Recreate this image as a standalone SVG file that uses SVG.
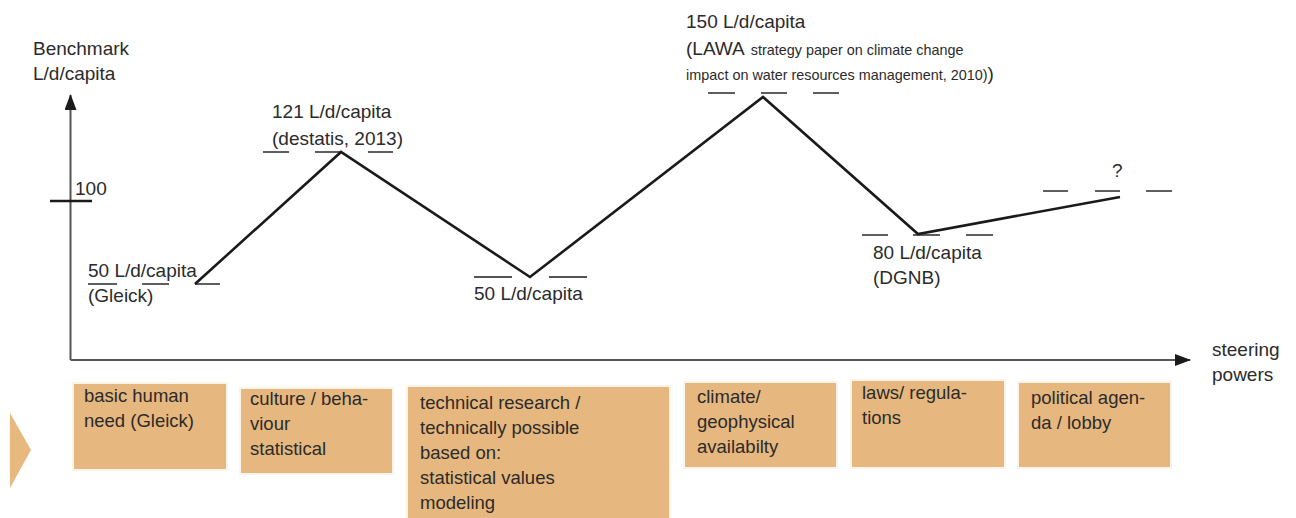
<svg xmlns="http://www.w3.org/2000/svg" width="1296" height="518" viewBox="0 0 1296 518">
  <style>
    text { font-family: "Liberation Sans", Arial, sans-serif; fill: #2b2b2b; }
    .lbl { font-size: 19px; }
    .small { font-size: 14.4px; }
    .box { fill: #e6b77e; stroke: #fbf4e8; stroke-width: 2; }
    .boxtxt { font-size: 18.5px; }
    .axis { stroke: #555; stroke-width: 2; fill: none; }
    .curve { stroke: #1a1a1a; stroke-width: 2.6; fill: none; stroke-linejoin: miter; }
    .dash { stroke: #1a1a1a; stroke-width: 1.4; }
  </style>
  <defs>
    <marker id="arrowhead" markerWidth="16" markerHeight="12" refX="15" refY="6" orient="auto" markerUnits="userSpaceOnUse">
      <path d="M0,0 L16,6 L0,12 Z" fill="#1a1a1a"/>
    </marker>
  </defs>
  <rect width="1296" height="518" fill="#ffffff"/>

  <!-- axes -->
  <g id="connectors">
    <path class="axis" d="M70.5,360 L70.5,95" marker-end="url(#arrowhead)"/>
    <path class="axis" d="M70.5,360 L1190,360" marker-end="url(#arrowhead)"/>
    <line x1="50" y1="201" x2="92" y2="201" stroke="#1a1a1a" stroke-width="2.6"/>
    <!-- benchmark curve -->
    <polyline class="curve" points="195,284 341,152 530,277 763,97 918,234 1120,197"/>
    <!-- reference dashes -->
    <g id="dashes">
      <line class="dash" x1="88" y1="284" x2="117" y2="284"/>
      <line class="dash" x1="142" y1="284" x2="169" y2="284"/>
      <line class="dash" x1="195" y1="284" x2="220" y2="284"/>
      <line class="dash" x1="263" y1="152" x2="289" y2="152"/>
      <line class="dash" x1="315" y1="152" x2="342" y2="152"/>
      <line class="dash" x1="368" y1="152" x2="393" y2="152"/>
      <line class="dash" x1="474" y1="277" x2="512" y2="277"/>
      <line class="dash" x1="549" y1="277" x2="587" y2="277"/>
      <line class="dash" x1="708" y1="93" x2="735" y2="93"/>
      <line class="dash" x1="761" y1="93" x2="787" y2="93"/>
      <line class="dash" x1="813" y1="93" x2="839" y2="93"/>
      <line class="dash" x1="862" y1="235" x2="888" y2="235"/>
      <line class="dash" x1="913" y1="235" x2="940" y2="235"/>
      <line class="dash" x1="966" y1="235" x2="993" y2="235"/>
      <line class="dash" x1="1043" y1="191" x2="1068" y2="191"/>
      <line class="dash" x1="1095" y1="191" x2="1120" y2="191"/>
      <line class="dash" x1="1146" y1="191" x2="1172" y2="191"/>
    </g>
  </g>

  <!-- axis labels -->
  <g id="axis-labels">
    <text class="lbl" x="33" y="55">Benchmark</text>
    <text class="lbl" x="33" y="80">L/d/capita</text>
    <text class="lbl" x="75" y="195">100</text>
    <text class="lbl" x="1212" y="356">steering</text>
    <text class="lbl" x="1212" y="381">powers</text>
  </g>

  <!-- point labels -->
  <g id="point-gleick">
    <text class="lbl" x="88" y="277">50 L/d/capita</text>
    <text class="lbl" x="88" y="302">(Gleick)</text>
  </g>
  <g id="point-destatis">
    <text class="lbl" x="272" y="118">121 L/d/capita</text>
    <text class="lbl" x="272" y="145">(destatis, 2013)</text>
  </g>
  <g id="point-technical">
    <text class="lbl" x="474" y="300">50 L/d/capita</text>
  </g>
  <g id="point-lawa">
    <text class="lbl" x="686" y="28">150 L/d/capita</text>
    <text x="686" y="55"><tspan class="lbl">(LAWA</tspan><tspan class="small" dx="6">strategy paper on climate change</tspan></text>
    <text x="686" y="80"><tspan class="small">impact on water resources management, 2010)</tspan><tspan class="lbl">)</tspan></text>
  </g>
  <g id="point-dgnb">
    <text class="lbl" x="873" y="259">80 L/d/capita</text>
    <text class="lbl" x="873" y="284">(DGNB)</text>
  </g>
  <g id="point-open">
    <text class="lbl" x="1112" y="177">?</text>
  </g>

  <!-- steering power boxes -->
  <polygon points="10,413 31,450 10,488" fill="#e8b97f"/>
  <g id="box-basic">
    <rect class="box" x="73" y="383" width="154" height="87"/>
    <text class="boxtxt" x="84" y="402">basic human</text>
    <text class="boxtxt" x="84" y="427">need (Gleick)</text>
  </g>
  <g id="box-culture">
    <rect class="box" x="240" y="388" width="153" height="86"/>
    <text class="boxtxt" x="250" y="405">culture / beha-</text>
    <text class="boxtxt" x="250" y="430">viour</text>
    <text class="boxtxt" x="250" y="455">statistical</text>
  </g>
  <g id="box-technical">
    <rect class="box" x="407" y="386" width="263" height="134"/>
    <text class="boxtxt" x="420" y="409">technical research /</text>
    <text class="boxtxt" x="420" y="434">technically possible</text>
    <text class="boxtxt" x="420" y="459">based on:</text>
    <text class="boxtxt" x="420" y="484">statistical values</text>
    <text class="boxtxt" x="420" y="509">modeling</text>
  </g>
  <g id="box-climate">
    <rect class="box" x="684" y="382" width="153" height="86"/>
    <text class="boxtxt" x="697" y="403">climate/</text>
    <text class="boxtxt" x="697" y="428">geophysical</text>
    <text class="boxtxt" x="697" y="453">availabilty</text>
  </g>
  <g id="box-laws">
    <rect class="box" x="851" y="380" width="154" height="88"/>
    <text class="boxtxt" x="862" y="399">laws/ regula-</text>
    <text class="boxtxt" x="862" y="424">tions</text>
  </g>
  <g id="box-political">
    <rect class="box" x="1018" y="382" width="153" height="86"/>
    <text class="boxtxt" x="1031" y="404">political agen-</text>
    <text class="boxtxt" x="1031" y="429">da / lobby</text>
  </g>
</svg>
